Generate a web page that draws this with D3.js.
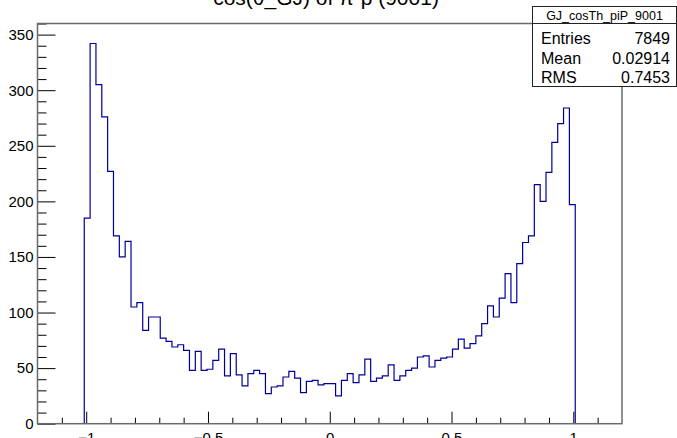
<!DOCTYPE html>
<html>
<head>
<meta charset="utf-8">
<script src="https://cdn.jsdelivr.net/npm/d3@7/dist/d3.min.js"></script>
<style>
  body { margin: 0; background: #fff; }
  svg { display: block; font-family: "Liberation Sans", Arial, sans-serif; }
</style>
</head>
<body>
<div id="chart"></div>
<script>
// Histogram definition (ROOT style TH1): 100 bins over [-1.2, 1.2]
const nBins = 100
const xLow = -1.2
const xHigh = 1.2
const firstFilledBin = 8
// Bin contents, starting at firstFilledBin
const counts = [
  185, 342, 305, 276, 227, 169, 150, 164, 105, 109,
  84, 96, 96, 77, 74, 69, 71, 66, 48, 65,
  48, 49, 57, 67, 43, 63, 44, 34, 45, 48,
  45, 27, 33, 34, 42, 47, 41, 28, 38, 39,
  35, 36, 36, 25, 39, 45, 37, 44, 58, 38,
  41, 43, 53, 39, 43, 48, 50, 60, 61, 51,
  57, 59, 60, 67, 76, 68, 72, 79, 90, 106,
  96, 113, 135, 109, 144, 163, 169, 215, 200, 226,
  253, 270, 284, 197
]
const yMax = 360

// Axis ticks
const xMajorTicks = [-1, -0.5, 0, 0.5, 1]
const xMinorTicks = [-1.1, -0.9, -0.8, -0.7, -0.6, -0.4, -0.3, -0.2, -0.1, 0.1, 0.2, 0.3, 0.4, 0.6, 0.7, 0.8, 0.9, 1.1]
const yMajorTicks = [0, 50, 100, 150, 200, 250, 300, 350]
const yMinorStep = 10

// Stats box
const histName = 'GJ_cosTh_piP_9001'
const statsRows = [['Entries', '7849'], ['Mean', '0.02914'], ['RMS', '0.7453']]
const titleText = 'cos(θ_GJ) of π⁺p (9001)'

const W = 677, H = 438
const frame = { left: 37.5, right: 622, top: 23.5, bottom: 423.7 }

const svg = d3.select('#chart')
  .append('svg')
  .attr('width', W)
  .attr('height', H)

// Scales
const x = d3.scaleLinear().domain([xLow, xHigh]).range([frame.left, frame.right])
const y = d3.scaleLinear().domain([0, yMax]).range([frame.bottom, frame.top])

// Title (mostly cut off at the top edge, as in the picture)
svg.append('text')
  .attr('x', 326)
  .attr('y', 5)
  .attr('text-anchor', 'middle')
  .attr('font-size', 21)
  .attr('fill', '#000')
  .text(titleText)

// Build step outline of the histogram
const binW = (xHigh - xLow) / nBins
const steps = []
counts.forEach((c, i) => {
  steps.push([xLow + (firstFilledBin + i) * binW, c])
})
steps.push([xLow + (firstFilledBin + counts.length) * binW, 0])

const line = d3.line()
  .x(d => x(d[0]))
  .y(d => y(d[1]))
  .curve(d3.curveStepAfter)

svg.append('path')
  .datum([[steps[0][0], 0], ...steps])
  .attr('fill', 'none')
  .attr('stroke', '#000099')
  .attr('stroke-width', 1.2)
  .attr('d', line)

// X axis major ticks with labels (ticks point inward)
svg.append('g')
  .attr('transform', `translate(0,${frame.bottom})`)
  .call(d3.axisBottom(x).tickValues(xMajorTicks).tickSize(-12).tickPadding(9).tickFormat(d3.format('')))
  .call(g => g.select('.domain').remove())
  .call(g => g.selectAll('.tick text').attr('font-size', 15).attr('font-family', null).attr('fill', '#000'))

// X axis minor ticks
svg.append('g')
  .attr('transform', `translate(0,${frame.bottom})`)
  .call(d3.axisBottom(x).tickValues(xMinorTicks).tickSize(-6).tickFormat(''))
  .call(g => g.select('.domain').remove())

// Y axis major ticks with labels
svg.append('g')
  .attr('transform', `translate(${frame.left},0)`)
  .call(d3.axisLeft(y).tickValues(yMajorTicks).tickSize(-18).tickPadding(4))
  .call(g => g.select('.domain').remove())
  .call(g => g.selectAll('.tick text').attr('font-size', 15).attr('font-family', null).attr('fill', '#000'))

// Y axis minor ticks
svg.append('g')
  .attr('transform', `translate(${frame.left},0)`)
  .call(d3.axisLeft(y).tickValues(d3.range(0, yMax + 1, yMinorStep).filter(v => v % 50 !== 0)).tickSize(-9).tickFormat(''))
  .call(g => g.select('.domain').remove())

// Frame
svg.append('rect')
  .attr('x', frame.left)
  .attr('y', frame.top)
  .attr('width', frame.right - frame.left)
  .attr('height', frame.bottom - frame.top)
  .attr('fill', 'none')
  .attr('stroke', '#6a6a6a')
  .attr('stroke-width', 1.5)

// Stats box
const box = { x: 532.5, y: 6.5, w: 144, h: 80, sep: 23.5 }
const stats = svg.append('g')
stats.append('rect')
  .attr('x', box.x).attr('y', box.y)
  .attr('width', box.w).attr('height', box.h)
  .attr('fill', '#fff')
  .attr('stroke', '#222')
  .attr('stroke-width', 1)
stats.append('line')
  .attr('x1', box.x).attr('x2', box.x + box.w)
  .attr('y1', box.sep).attr('y2', box.sep)
  .attr('stroke', '#222')
stats.append('text')
  .attr('x', box.x + box.w / 2)
  .attr('y', 20)
  .attr('text-anchor', 'middle')
  .attr('font-size', 12.5)
  .text(histName)
stats.selectAll('text.row-name')
  .data(statsRows)
  .enter()
  .append('text')
  .attr('class', 'row-name')
  .attr('x', 541)
  .attr('y', (d, i) => 44 + i * 19.5)
  .attr('font-size', 16)
  .text(d => d[0])
stats.selectAll('text.row-val')
  .data(statsRows)
  .enter()
  .append('text')
  .attr('class', 'row-val')
  .attr('x', 670)
  .attr('y', (d, i) => 44 + i * 19.5)
  .attr('text-anchor', 'end')
  .attr('font-size', 16)
  .text(d => d[1])
</script>
</body>
</html>
